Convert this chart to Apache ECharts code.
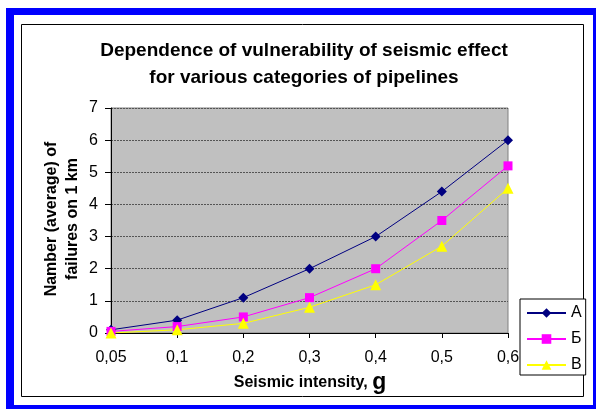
<!DOCTYPE html>
<html>
<head>
<meta charset="utf-8">
<style>
  html, body { margin: 0; padding: 0; background: #ffffff; }
  #chart { width: 598px; height: 410px; }
</style>
<script src="https://cdn.jsdelivr.net/npm/echarts@6/dist/echarts.min.js"></script>
</head>
<body>
<div id="chart"></div>
<script>
// Seismic intensity categories (g)
const intensity = ['0,05', '0,1', '0,2', '0,3', '0,4', '0,5', '0,6'];
// Average number of failures per 1 km, by pipeline category
const seriesA = [0.1, 0.4, 1.1, 2.0, 3.0, 4.4, 6.0];
const seriesB = [0.05, 0.2, 0.5, 1.1, 2.0, 3.5, 5.2];
const seriesV = [0.0, 0.1, 0.3, 0.8, 1.5, 2.7, 4.5];
const seriesNames = ['А', 'Б', 'В'];

const FONT = '"Liberation Sans", Arial, sans-serif';

const chart = echarts.init(document.getElementById('chart'), null, { renderer: 'canvas' });

function lineSeries(name, data, color, symbol, size) {
  return {
    name: name,
    type: 'line',
    data: data,
    symbol: symbol,
    symbolSize: size,
    showAllSymbol: true,
    lineStyle: { color: color, width: 1 },
    itemStyle: { color: color, borderWidth: 0 },
    emphasis: { disabled: true },
    z: 3
  };
}

chart.setOption({
  animation: false,
  backgroundColor: '#ffffff',
  graphic: [
    // blue outer frame
    { type: 'rect', silent: true, shape: { x: 6, y: 8, width: 590, height: 401 }, style: { fill: '#0000ff' }, z: -10 },
    { type: 'rect', silent: true, shape: { x: 14, y: 15, width: 579, height: 390 }, style: { fill: '#ffffff' }, z: -9 },
    // chart area border
    { type: 'rect', silent: true, shape: { x: 21.5, y: 24.5, width: 562, height: 372 }, style: { fill: '#ffffff', stroke: '#000000', lineWidth: 1 }, z: -8 },
    // y-axis title (two lines, rotated)
    {
      type: 'text', x: 52, y: 219, rotation: Math.PI / 2,
      style: { text: 'Namber (average) of', font: 'bold 16px ' + FONT, fill: '#000', align: 'center', verticalAlign: 'middle' }, z: 6
    },
    {
      type: 'text', x: 73, y: 219, rotation: Math.PI / 2,
      style: { text: 'failures on 1 km', font: 'bold 16px ' + FONT, fill: '#000', align: 'center', verticalAlign: 'middle' }, z: 6
    },
    // x-axis title with enlarged unit
    {
      type: 'text', x: 310, y: 383,
      style: {
        text: '{a|Seismic intensity, }{b|g}',
        align: 'center', verticalAlign: 'middle',
        rich: {
          a: { font: 'bold 16px ' + FONT, fill: '#000' },
          b: { font: 'bold 23px ' + FONT, fill: '#000' }
        }
      }, z: 6
    }
  ],
  title: {
    text: 'Dependence of vulnerability of seismic effect\nfor various categories of pipelines',
    left: 304, top: 37, textAlign: 'center', padding: 0,
    textStyle: { fontFamily: FONT, fontWeight: 'bold', fontSize: 19, lineHeight: 27, color: '#000' }
  },
  grid: { left: 111, top: 108, width: 397, height: 225, show: true, backgroundColor: '#c0c0c0', borderColor: '#808080', borderWidth: 1 },
  legend: {
    data: seriesNames,
    orient: 'vertical',
    left: 520, top: 299,
    itemWidth: 39, itemHeight: 12, itemGap: 10,
    textStyle: { fontFamily: FONT, fontSize: 16, color: '#000', lineHeight: 12 },
    padding: [6, 4, 2, 6],
    backgroundColor: '#ffffff',
    borderColor: '#000000',
    borderWidth: 1,
    borderRadius: 0,
    selectedMode: false
  },
  xAxis: {
    type: 'category',
    data: intensity,
    boundaryGap: false,
    axisLine: { lineStyle: { color: '#000', width: 1 } },
    axisTick: { show: true, length: 5, lineStyle: { color: '#000' } },
    axisLabel: { fontFamily: FONT, fontSize: 16, color: '#000', margin: 17 },
    splitLine: { show: false }
  },
  yAxis: {
    type: 'value',
    min: 0, max: 7, interval: 1,
    axisLine: { show: true, lineStyle: { color: '#000', width: 1 } },
    axisTick: { show: true, length: 6, lineStyle: { color: '#000' } },
    axisLabel: { fontFamily: FONT, fontSize: 16, color: '#000', margin: 13 },
    splitLine: { show: true, lineStyle: { color: '#555555', width: 1, type: [2, 1] } }
  },
  series: [
    lineSeries(seriesNames[0], seriesA, '#000080', 'diamond', 10),
    lineSeries(seriesNames[1], seriesB, '#ff00ff', 'rect', 9),
    lineSeries(seriesNames[2], seriesV, '#ffff00', 'triangle', 11)
  ]
});
</script>
</body>
</html>
